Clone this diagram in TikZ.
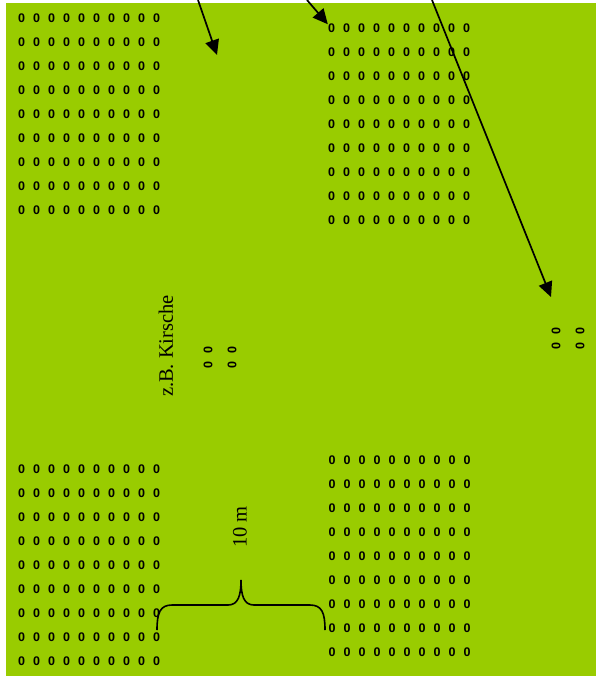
\documentclass[tikz,border=0pt]{standalone}
\usepackage{fontspec}
\setmainfont{Liberation Serif}
\newfontfamily\zerofont{Liberation Sans}
\usetikzlibrary{arrows.meta}
\definecolor{field}{HTML}{99CC00}

\begin{document}
\begin{tikzpicture}[x=1pt, y=-1pt,
		zero/.style={inner sep=0pt, font=\zerofont\bfseries\fontsize{12.5}{12.5}\selectfont},
		tree/.style={zero, rotate=90},
		note/.style={inner sep=0pt, rotate=90, font=\fontsize{20.5}{20.5}\selectfont},
		pointer/.style={line width=1.7pt, -{Triangle[length=15pt,width=14pt]}}]

		\useasboundingbox (0,0) rectangle (596,683);
		\fill[field] (6,3) rectangle (596,676);

		% rows of plants
		\foreach \g/\gx/\gy in {tl/21.5/18.5, tr/331.5/28.5, bl/21.5/469, br/332/460.5}
			\foreach \r in {0,...,8}
				\foreach \c in {0,...,9}
					\node[zero] (\g-\r-\c) at ({\gx+15*\c},{\gy+24*\r}) {0};

		% single trees
		\node[tree] (k1) at (208,350) {0};
		\node[tree] (k2) at (232,350) {0};
		\node[tree] (k3) at (208,365) {0};
		\node[tree] (k4) at (232,365) {0};
		\node[tree] (r1) at (556,331) {0};
		\node[tree] (r2) at (580,331) {0};
		\node[tree] (r3) at (556,346) {0};
		\node[tree] (r4) at (580,346) {0};

		\node[note] (kirsche) at (166,346) {z.B. Kirsche};
		\node[note] (dist) at (240,527) {10 m};

		% arrows from above
		\coordinate (in1) at (198,0);
		\coordinate (in2) at (307,0);
		\coordinate (in3) at (432,0);
		\coordinate (tip1) at (217,55);
		\coordinate (tip3) at (551,297);

		\draw[pointer] (in1) -- (tip1);
		\draw[pointer] (in2) -- (tr-0-0);
		\draw[pointer] (in3) -- (tip3);

		% brace
		\draw[line width=1.6pt] (157,630) .. controls (157,613) and (160,605) .. (172,605)
			-- (228,605) .. controls (238,605) and (241,596) .. (241,580)
			.. controls (241,596) and (244,605) .. (254,605)
			-- (310,605) .. controls (322,605) and (325,613) .. (325,630);
	\end{tikzpicture}
\end{document}
